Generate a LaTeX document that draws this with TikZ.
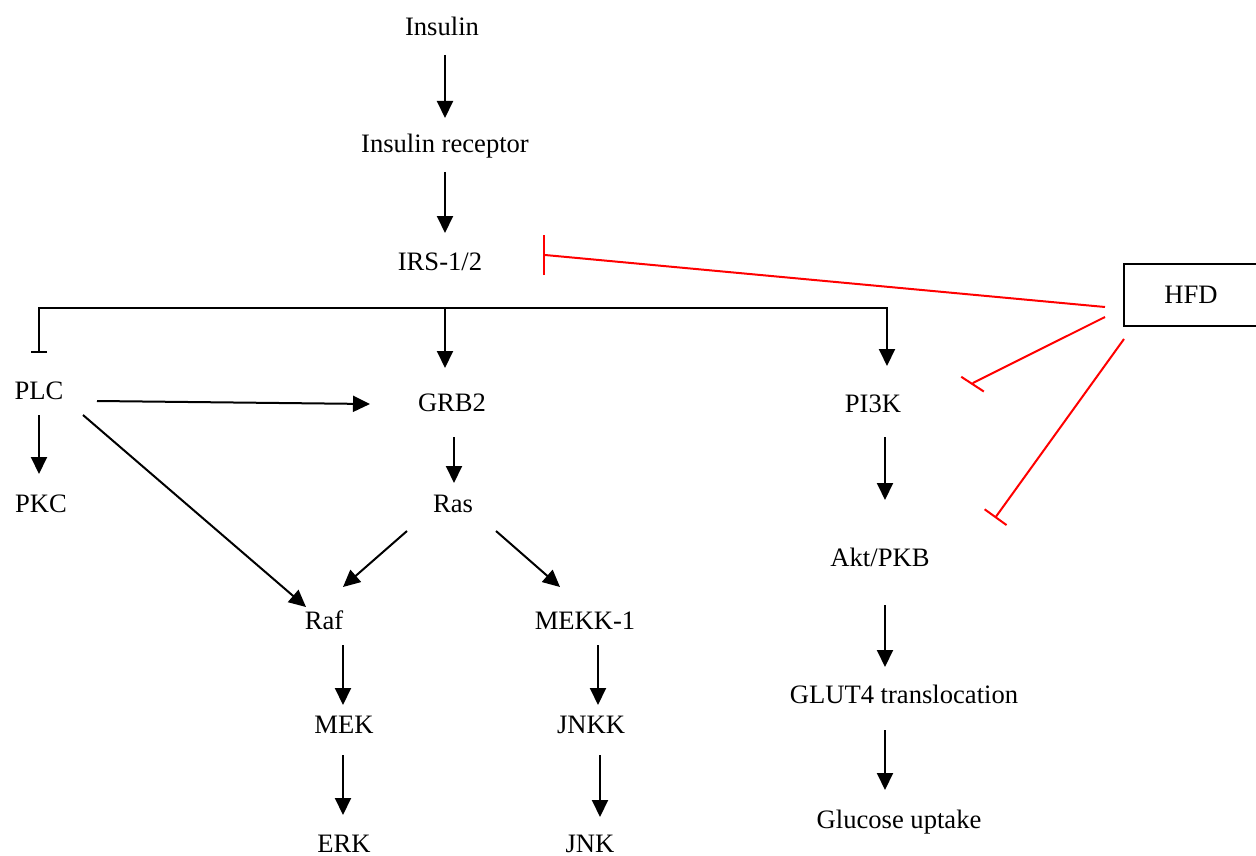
\documentclass[tikz,border=0pt]{standalone}
\usepackage{fontspec}
\setmainfont{Liberation Serif}
\usetikzlibrary{arrows.meta,calc}
\begin{document}
\begin{tikzpicture}[x=1pt,y=-1pt,
  lbl/.style={inner sep=0pt,anchor=base,font=\fontsize{26.6}{32}\selectfont},
  conn/.style={line width=2pt,black},
  arr/.style={conn,-{Triangle[width=16pt,length=17pt]}},
  inh/.style={line width=2pt,red,-{Bar[width=#1]}},
  inh/.default=27pt,
  boxed/.style={draw,line width=2.4pt,minimum width=134pt,minimum height=62pt,inner sep=0pt,font=\fontsize{26.6}{32}\selectfont}
]
\useasboundingbox (0,0) rectangle (1256,856);
\clip (0,0) rectangle (1256,856);

\node[lbl] (ins)  at (442,36)  {Insulin};
\node[lbl] (rec)  at (445,153) {Insulin receptor};
\node[lbl] (irs)  at (440,270) {IRS-1/2};
\node[lbl] (plc)  at (39,399)  {PLC};
\node[lbl] (pkc)  at (41,512)  {PKC};
\node[lbl] (grb2) at (452,411) {GRB2};
\node[lbl] (ras)  at (453,512) {Ras};
\node[lbl] (raf)  at (324,629) {Raf};
\node[lbl] (mekk) at (585,629) {MEKK-1};
\node[lbl] (mek)  at (344,733) {MEK};
\node[lbl] (jnkk) at (591,733) {JNKK};
\node[lbl] (erk)  at (344,852) {ERK};
\node[lbl] (jnk)  at (590,852) {JNK};
\node[lbl] (pi3k) at (873,412) {PI3K};
\node[lbl] (akt)  at (880,566) {Akt/PKB};
\node[lbl] (glut) at (904,703) {GLUT4 translocation};
\node[lbl] (glu)  at (899,828) {Glucose uptake};
\node[boxed] (hfd) at (1191,295) {HFD};

\coordinate (br) at (445,308);

\draw[arr] ($(ins.base)+(3,19)$) -- ($(rec.base)+(0,-35)$);
\draw[arr] ($(rec.base)+(0,19)$) -- ($(irs.base)+(5,-37)$);
\draw[conn,{Bar[width=16pt]}-{Triangle[width=16pt,length=17pt]}]
  ($(plc.base)+(0,-46)$) |- (br) -| ($(pi3k.base)+(14,-46)$);
\draw[arr] (br) -- ($(grb2.base)+(-7,-43)$);
\draw[arr] ($(plc.base)+(58,2)$) -- ($(grb2.base)+(-82,-7)$);
\draw[arr] ($(plc.base)+(44,16)$) -- ($(raf.base)+(-18,-22)$);
\draw[arr] ($(plc.base)+(0,16)$) -- ($(pkc.base)+(-2,-38)$);
\draw[arr] ($(grb2.base)+(2,26)$) -- ($(ras.base)+(1,-29)$);
\draw[arr] ($(ras.base)+(-46,19)$) -- ($(raf.base)+(19,-42)$);
\draw[arr] ($(ras.base)+(43,19)$) -- ($(mekk.base)+(-25,-42)$);
\draw[arr] ($(raf.base)+(19,16)$) -- ($(mek.base)+(-1,-28)$);
\draw[arr] ($(mek.base)+(-1,22)$) -- ($(erk.base)+(-1,-37)$);
\draw[arr] ($(mekk.base)+(13,16)$) -- ($(jnkk.base)+(7,-28)$);
\draw[arr] ($(jnkk.base)+(9,22)$) -- ($(jnk.base)+(10,-35)$);
\draw[arr] ($(pi3k.base)+(12,25)$) -- ($(akt.base)+(5,-66)$);
\draw[arr] ($(akt.base)+(5,39)$) -- ($(glut.base)+(-19,-36)$);
\draw[arr] ($(glut.base)+(-19,27)$) -- ($(glu.base)+(-14,-38)$);

\draw[inh=40pt] ($(hfd.center)+(-86,12)$) -- ($(irs.base)+(105,-15)$) -- ($(irs.base)+(103,-15)$);
\draw[inh] ($(hfd.center)+(-86,22)$) -- ($(pi3k.base)+(100.5,-29.3)$) -- ($(pi3k.base)+(99,-27)$);
\draw[inh] ($(hfd.center)+(-67,44)$) -- ($(akt.base)+(115,-48)$);
\end{tikzpicture}
\end{document}
